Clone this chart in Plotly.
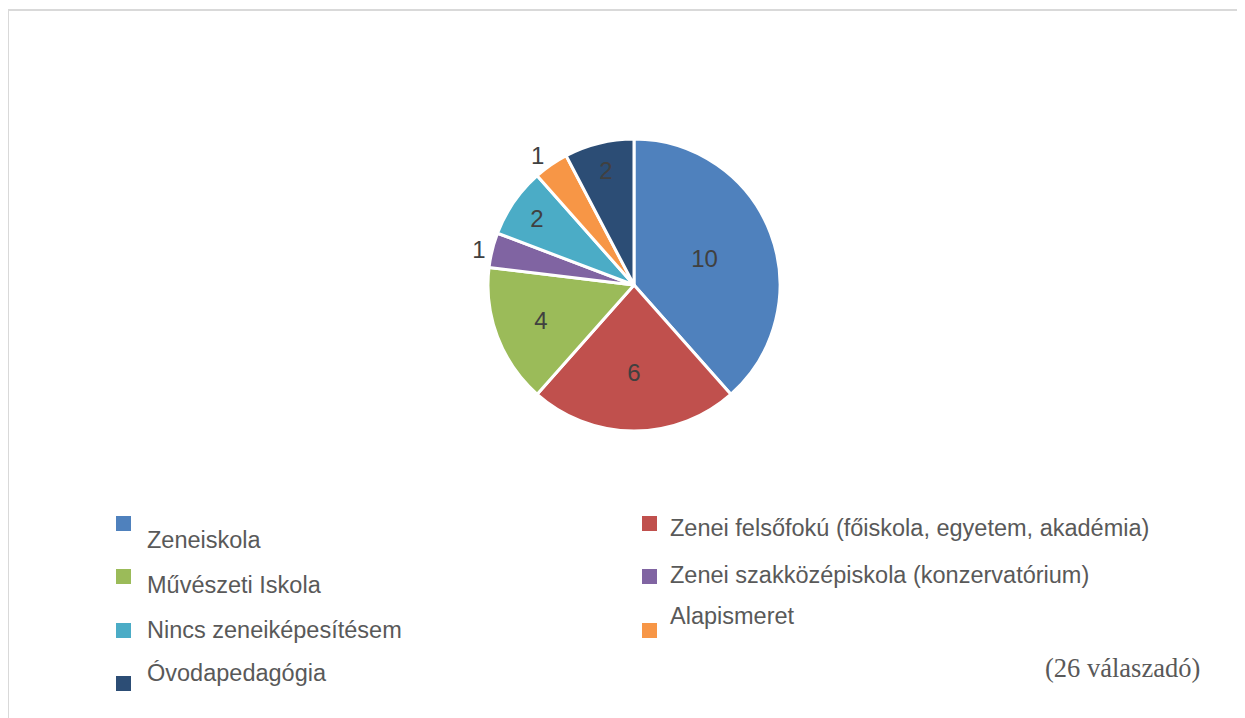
import plotly.graph_objects as go

# data
categories = [
    "Zeneiskola",
    "Zenei felsőfokú (főiskola, egyetem, akadémia)",
    "Művészeti Iskola",
    "Zenei szakközépiskola (konzervatórium)",
    "Nincs zeneiképesítésem",
    "Alapismeret",
    "Óvodapedagógia",
]
counts = [10, 6, 4, 1, 2, 1, 2]
colors = ["#4F81BD", "#C0504D", "#9BBB59", "#8064A2", "#4BACC6", "#F79646", "#2C4D75"]
label_pos = ["inside", "inside", "inside", "outside", "inside", "outside", "inside"]
note = "(26 válaszadó)"

# the page body adds an 8px margin, so the figure is a bit smaller
OFF = 8
W, H = 1245 - OFF, 718 - OFF


def px(x):
    # x given in screenshot pixels
    return (x - OFF) / W


def py(y):
    return 1 - (y - OFF) / H


cx, cy, r = 634, 285, 146

pie = go.Pie(
    labels=categories,
    values=counts,
    sort=False,
    direction="clockwise",
    rotation=0,
    marker=dict(colors=colors, line=dict(color="white", width=3)),
    textinfo="value",
    textposition=label_pos,
    insidetextorientation="horizontal",
    textfont=dict(family="Liberation Sans", size=24, color="#404040"),
    outsidetextfont=dict(family="Liberation Sans", size=24, color="#404040"),
    domain=dict(x=[px(cx - r), px(cx + r)], y=[py(cy + r), py(cy - r)]),
    showlegend=False,
    hoverinfo="label+value",
)

fig = go.Figure(data=[pie])

# hand-made two-column legend (marker square + text), like the original
legend_rows = [
    # (square x, square top y, text x, text center y)
    (116, 516, 145, 540),
    (642, 516, 668, 528),
    (116, 569, 145, 585),
    (642, 569, 668, 575),
    (116, 623, 145, 630),
    (642, 623, 668, 616),
    (116, 676, 145, 673),
]
shapes = []
annotations = []
for (sx, sy, tx, ty), name, col in zip(legend_rows, categories, colors):
    shapes.append(dict(
        type="rect", xref="paper", yref="paper",
        x0=px(sx), x1=px(sx + 15), y0=py(sy + 15), y1=py(sy),
        fillcolor=col, line=dict(width=0),
    ))
    annotations.append(dict(
        x=px(tx), y=py(ty), xref="paper", yref="paper",
        text=name, showarrow=False, xanchor="left", yanchor="middle",
        font=dict(family="Liberation Sans", size=23.5, color="#595959"),
    ))

annotations.append(dict(
    x=px(1202), y=py(668), xref="paper", yref="paper",
    text=note, showarrow=False, xanchor="right", yanchor="middle",
    font=dict(family="Liberation Serif", size=26.5, color="#595959"),
))

# light frame (top and left edges visible in the original)
shapes.append(dict(
    type="rect", xref="paper", yref="paper",
    x0=px(8), x1=px(1245 + 20), y0=py(718 + 20), y1=py(10),
    line=dict(color="#D9D9D9", width=2), fillcolor="rgba(0,0,0,0)",
))

fig.update_layout(
    width=W,
    height=H,
    margin=dict(l=0, r=0, t=0, b=0),
    paper_bgcolor="white",
    plot_bgcolor="white",
    shapes=shapes,
    annotations=annotations,
    uniformtext=dict(minsize=24, mode="show"),
)

fig.write_html("out.html")
